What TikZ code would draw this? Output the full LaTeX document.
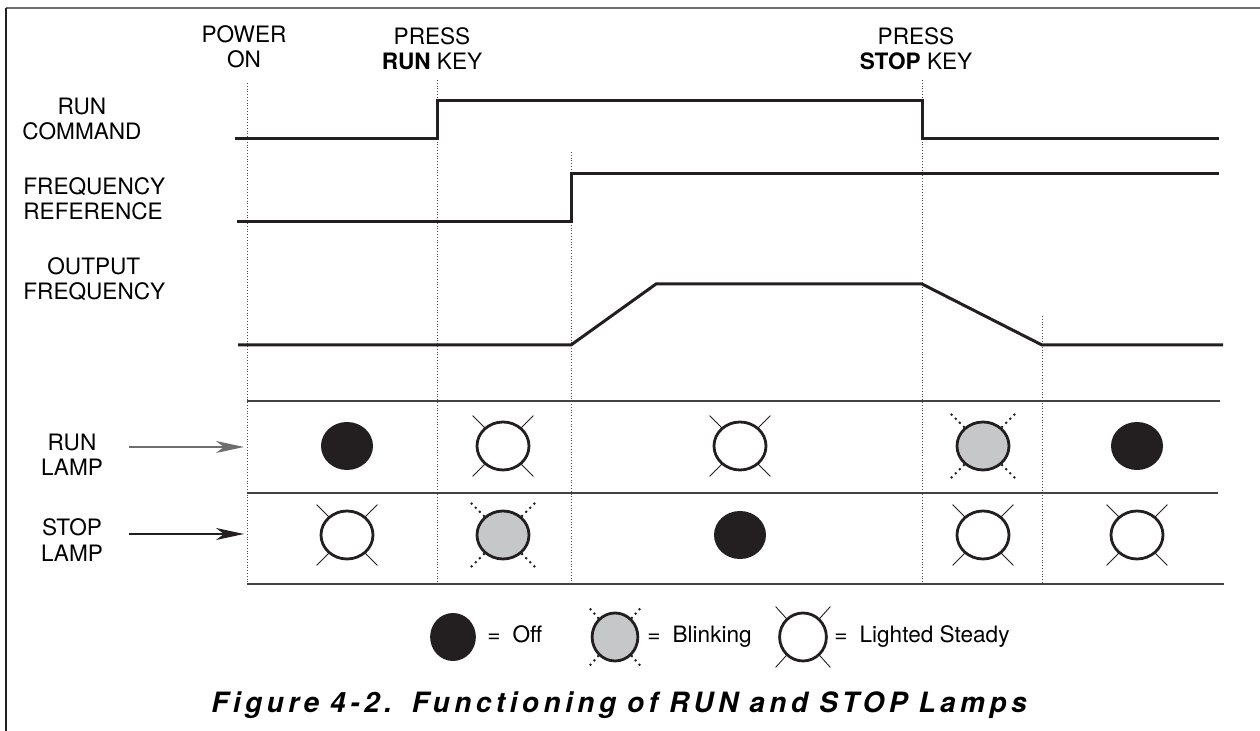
\documentclass[tikz,border=0pt]{standalone}
\usepackage{fontspec}
\setmainfont{TeX Gyre Heros}
\usetikzlibrary{arrows.meta,positioning}
\definecolor{ink}{HTML}{231F20}
\definecolor{lampgray}{HTML}{C6C7C9}
\definecolor{framegray}{HTML}{6D6E70}
\newcommand\capgap{\hspace{5.5pt}}

\begin{document}
\begin{tikzpicture}[
      x=0.5pt,
      y=-0.5pt,
      >={Stealth[length=14pt,width=6pt,inset=4pt]},
      sig/.style={line width=1.5pt, ink},
      grid/.style={line width=0.7pt, ink!85},
      marker/.style={densely dotted, line width=0.4pt, ink!80},
      lbl/.style={font=\fontsize{11.3}{12.6}\selectfont, align=center, inner sep=0pt},
      pointer/.style={->, line width=0.6pt},
      ray/.style={line width=0.45pt, ink},
      blinkray/.style={line width=1.4pt, ink, dash pattern=on 0pt off 2.9pt, line cap=round},
      rim/.style={line width=1.4pt, ink},
      caption/.style={font=\fontsize{14}{16}\selectfont\bfseries\itshape
        \addfontfeature{LetterSpace=16}, inner sep=0pt},
      lamp off/.pic={\fill[ink] (0,0) ellipse [x radius=26, y radius=24];},
      lamp blink/.pic={
        \foreach \a in {45,135,225,315}
          \draw[blinkray] (\a:27) -- (\a:45);
        \draw[rim, fill=lampgray] (0,0) ellipse [x radius=26, y radius=24];},
      lamp steady/.pic={
        \foreach \a in {45,135,225,315}
          \draw[ray] (\a:25) -- (\a:43);
        \draw[rim, fill=white] (0,0) ellipse [x radius=26, y radius=24];}
    ]
    \useasboundingbox (0,0) rectangle (1260,731);

    % frame
    \draw[framegray, line width=1pt] (6,8) -- (1260,8);
    \draw[ink, line width=1pt] (6,8) -- (6,731);

    % event labels
    \node[lbl] (power) at (244,47) {POWER\\ON};
    \node[lbl] (runkey) at (432,49) {PRESS\\\textbf{RUN} KEY};
    \node[lbl] (stopkey) at (916,49) {PRESS\\\textbf{STOP} KEY};

    % signal labels
    \node[lbl] (runcmd) at (82,119) {RUN\\COMMAND};
    \node[lbl, align=left, anchor=west] (freqref) at (23,199) {FREQUENCY\\REFERENCE};
    \node[lbl, align=left, anchor=west] (outfreq) at (23,279)
      {\hspace*{12pt}OUTPUT\\FREQUENCY};
    \node[lbl] (runlamp) at (72,455) {RUN\\LAMP};
    \node[lbl] (stoplamp) at (72,540) {STOP\\LAMP};

    % event markers
    \foreach \x/\t in {247/83, 437/80, 571/152, 922/80, 1042/316}
      \draw[marker] (\x,\t) -- (\x,584);

    % waveforms
    \draw[sig] (235,139) -- (437,139) -- (437,101) -- (922,101) -- (922,139) -- (1219,139);
    \draw[sig] (237,222) -- (571,222) -- (571,174) -- (1219,174);
    \draw[sig] (238,345) -- (571,345) -- (656,284) -- (922,284) -- (1042,345) -- (1223,345);

    % lamp table
    \draw[grid] (247,401) -- (1220,401);
    \draw[grid] (247,493) -- (1218,493);
    \draw[grid] (247,584) -- (1224,584);

    \coordinate (runtail) at (129,447);
    \coordinate (runin) at (244,447);
    \coordinate (stoptail) at (129,534);
    \coordinate (stopin) at (244,534);
    \draw[pointer, ink!65] (runtail) -- (runin);
    \draw[pointer, ink] (stoptail) -- (stopin);

    \pic (r1) at (347,446) {lamp off};
    \pic (r2) at (503,446) {lamp steady};
    \pic (r3) at (740,446) {lamp steady};
    \pic (r4) at (983,446) {lamp blink};
    \pic (r5) at (1137,446) {lamp off};

    \pic (s1) at (347,535) {lamp steady};
    \pic (s2) at (503,535) {lamp blink};
    \pic (s3) at (740,535) {lamp off};
    \pic (s4) at (983,535) {lamp steady};
    \pic (s5) at (1137,535) {lamp steady};

    % legend
    \pic[xscale=0.88] (koff) at (453,637) {lamp off};
    \node[lbl, anchor=base west] (toff) at (487,643) {=\hspace{6pt}Off};
    \pic[xscale=0.88] (kblink) at (615,637) {lamp blink};
    \node[lbl, anchor=base west] (tblink) at (647,643) {=\hspace{6pt}Blinking};
    \pic[xscale=0.9] (ksteady) at (803,637) {lamp steady};
    \node[lbl, anchor=base west] (tsteady) at (834,643) {=\hspace{6pt}Lighted Steady};

    \node[caption] (cap) at (619,705)
      {Figure\capgap 4-2.\hspace{10pt}Functioning\capgap of\capgap RUN\capgap and\capgap STOP\capgap Lamps};
  \end{tikzpicture}
\end{document}
